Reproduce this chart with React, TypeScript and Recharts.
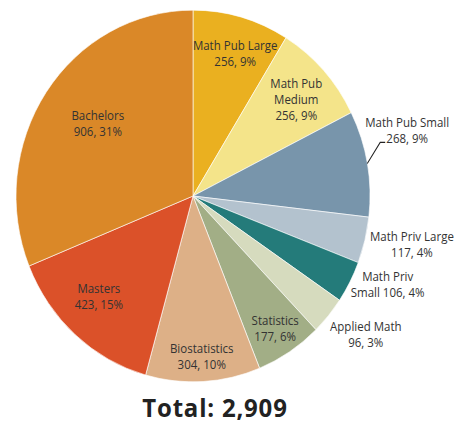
import { Cell, Pie, PieChart } from 'recharts'

const categories = [
    "Math Pub Large",
    "Math Pub Medium",
    "Math Pub Small",
    "Math Priv Large",
    "Math Priv Small",
    "Applied Math",
    "Statistics",
    "Biostatistics",
    "Masters",
    "Bachelors",
]
const counts = [256, 256, 268, 117, 106, 96, 177, 304, 423, 906]
const totalLabel = "Total: 2,909"

// how each label is broken into lines
const labelNames = [
    "Math Pub Large",
    "Math Pub\nMedium",
    "Math Pub Small",
    "Math Priv Large",
    "Math Priv\nSmall",
    "Applied Math",
    "Statistics",
    "Biostatistics",
    "Masters",
    "Bachelors",
]
const nameValueSep = ["\n", "\n", "\n", "\n", " ", "\n", "\n", "\n", "\n", "\n"]

const colors = ["#EAB020", "#F4E48A", "#7895AB", "#B3C2CE", "#247B7A", "#D6DBBE", "#A2AE86", "#DDB087", "#DB5129", "#DA8828"]
// label distance from centre (share of radius) and small angle nudges
const labelRadius = [0.8, 0.78, 1.26, 1.265, 1.2, 1.23, 0.852, 0.867, 0.76, 0.665]
const labelAngleShift = [-1.5, -0.9, 6.1, 1.7, 4, 2.6, 0, 0, -2.7, -2.1]

const data = categories.map((name, i) => ({ name, value: counts[i] }))
const total = counts.reduce((a, b) => a + b, 0)

const CX = 193
const CY = 196
const R = 177
const SY = 1.05 // the original is a little taller than wide
const RAD = Math.PI / 180

const renderLabel = (props: any) => {
    const { midAngle, index, value } = props
    const ang = (midAngle + labelAngleShift[index]) * RAD
    const r = R * labelRadius[index]
    const x = CX + r * Math.cos(ang)
    const y = CY - r * Math.sin(ang)
    const pct = Math.round((value / total) * 100)
    const lines = (labelNames[index] + nameValueSep[index] + value + ", " + pct + "%").split("\n")
    const lh = 16 / SY
    const y0 = y - ((lines.length - 1) * lh) / 2
    let leader = null
    if (index === 2) {
        const m = midAngle * RAD
        const sx = CX + R * Math.cos(m)
        const sy = CY - R * Math.sin(m)
        leader = (
            <polyline
                points={`${sx},${sy} ${x - 27},${y + 11} ${x - 22},${y + 11}`}
                fill="none"
                stroke="#222"
                strokeWidth={1}
            />
        )
    }
    return (
        <g key={`lbl-${index}`}>
            {leader}
            <text x={x} y={y0} textAnchor="middle" fill="#333" fontSize={11.5} fontFamily="'Open Sans', sans-serif">
                {lines.map((t, k) => (
                    <tspan key={k} x={x} y={y0 + k * lh} dy="0.35em">{t}</tspan>
                ))}
            </text>
        </g>
    )
}

const App = () => {
    return (
        <div style={{ position: 'absolute', left: 0, top: 0, width: 464, height: 423, background: '#fff', overflow: 'hidden' }}>
            <div style={{ transform: `scaleY(${SY})`, transformOrigin: `0px ${CY}px` }}>
                <PieChart width={464} height={423} margin={{ top: 0, right: 0, bottom: 0, left: 0 }}>
                    <Pie
                        data={data}
                        dataKey="value"
                        nameKey="name"
                        cx={CX}
                        cy={CY}
                        outerRadius={R}
                        startAngle={90}
                        endAngle={-270}
                        stroke="#ffffff"
                        strokeWidth={0.6}
                        label={renderLabel}
                        labelLine={false}
                        isAnimationActive={false}
                    >
                        {data.map((d, i) => (
                            <Cell key={d.name} fill={colors[i]} />
                        ))}
                    </Pie>
                    <text x={215} y={CY + (417 - CY) / SY} textAnchor="middle" fill="#222" fontSize={24} fontWeight="bold" letterSpacing={0.8} fontFamily="'Open Sans', sans-serif">
                        {totalLabel}
                    </text>
                </PieChart>
            </div>
        </div>
    )
}

export default App
